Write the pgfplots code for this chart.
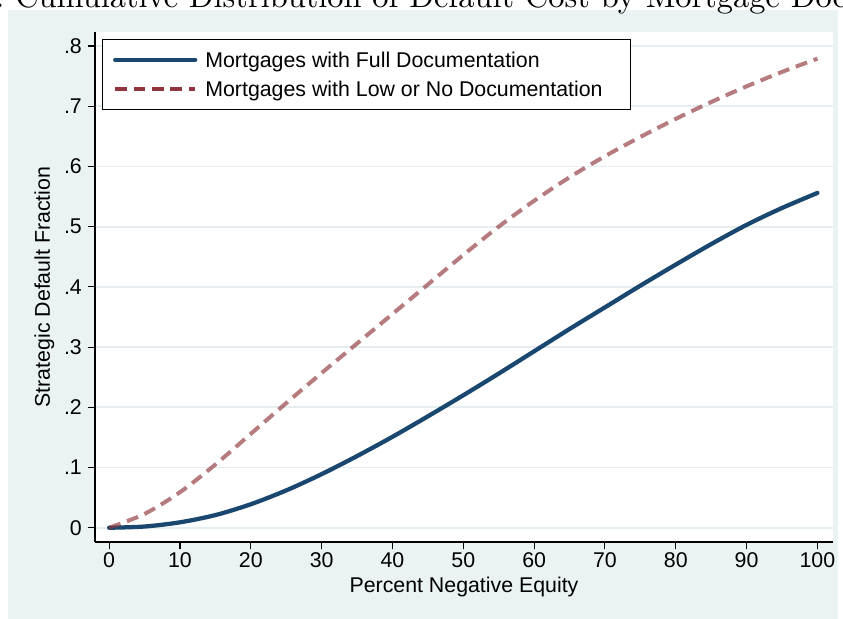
\documentclass[border=0pt]{standalone}
\usepackage{fontspec}
\newfontfamily\arial{Liberation Sans}
\newfontfamily\titlefont{lmroman10-regular}[Extension=.otf]
\usepackage{pgfplots}
\usepackage{pgfplotstable}
\pgfplotsset{compat=1.18}

\definecolor{bgblue}{RGB}{234,242,243}
\definecolor{gridblue}{RGB}{230,238,241}
\definecolor{statanavy}{RGB}{26,71,111}
\definecolor{statamaroon}{RGB}{144,53,59}
\newcommand\chartfont{\arial\fontsize{16}{19.2}\selectfont}

% Strategic default fraction by percent negative equity
\pgfplotstableread{
x    full   low
0    0.000  0.000
5    0.002  0.023
10   0.009  0.059
15   0.021  0.105
20   0.039  0.156
25   0.062  0.207
30   0.089  0.257
35   0.119  0.306
40   0.151  0.355
45   0.185  0.404
50   0.220  0.453
55   0.256  0.500
60   0.293  0.543
65   0.330  0.582
70   0.366  0.617
75   0.402  0.649
80   0.437  0.679
85   0.471  0.707
90   0.503  0.733
95   0.531  0.757
100  0.556  0.779
}\cdfdata

\begin{document}
\begin{tikzpicture}
\useasboundingbox (0,0) rectangle (632.25pt,463.5pt);
\fill[bgblue] (6pt,-2pt) rectangle (628.5pt,456pt);
\node[anchor=base west, inner sep=0pt, font=\titlefont\fontsize{24.3}{29}\selectfont]
  at (11.25pt,457.9pt) {\llap{Figure 1:\ }Cumulative Distribution of Default Cost by Mortgage Documentation};
\begin{axis}[
  at={(71.25pt,57pt)}, anchor=south west,
  scale only axis, width=553.5pt, height=382.5pt,
  xmin=-2, xmax=102.2, ymin=-0.0237, ymax=0.8233,
  axis background/.style={fill=white},
  axis x line*=bottom, axis y line*=left,
  axis line style={line width=1pt, -},
  xtick={0,10,20,30,40,50,60,70,80,90,100},
  xticklabels={0,10,20,30,40,50,60,70,80,90,100},
  ytick={0,0.1,0.2,0.3,0.4,0.5,0.6,0.7,0.8},
  yticklabels={0,.1,.2,.3,.4,.5,.6,.7,.8},
  tick align=outside, major tick length=5.6pt,
  tick style={black, line width=0.8pt},
  ymajorgrids, grid style={gridblue, line width=1.4pt},
  tick label style={font=\chartfont},
  xticklabel style={inner ysep=2.25pt},
  yticklabel style={inner xsep=4.1pt},
  xlabel={Percent Negative Equity},
  ylabel={Strategic Default Fraction},
  label style={font=\chartfont, inner sep=0pt},
  xlabel style={at={(axis description cs:0.5,0)}, anchor=base, yshift=-37.5pt},
  ylabel style={at={(axis description cs:-0.061,0.5)}, anchor=base},
  legend style={at={(axis description cs:0.0095,0.9863)}, anchor=north west,
    draw=black, line width=0.8pt, fill=white,
    inner xsep=7.9pt, inner ysep=9.4pt, row sep=10.6pt, column sep=6pt,
    font=\chartfont,
    nodes={inner sep=0pt, text height=11.5pt, text depth=0pt},
    cells={anchor=west}},
  legend image code/.code={\draw[#1] (0pt,0pt) -- (60pt,0pt);},
]
\addplot[statanavy, line width=3.2pt, line cap=round, smooth] table[x=x, y=full] {\cdfdata};
\addlegendentry{\makebox[311.3pt][l]{Mortgages with Full Documentation}}
\addplot[statamaroon, draw opacity=0.65, line width=3pt, dash pattern=on 9pt off 5.2pt, smooth, forget plot] table[x=x, y=low] {\cdfdata};
\addlegendimage{statamaroon, line width=3pt, dash pattern=on 8.8pt off 5pt}
\addlegendentry{\makebox[311.3pt][l]{Mortgages with Low or No Documentation}}
\end{axis}
\end{tikzpicture}
\end{document}
